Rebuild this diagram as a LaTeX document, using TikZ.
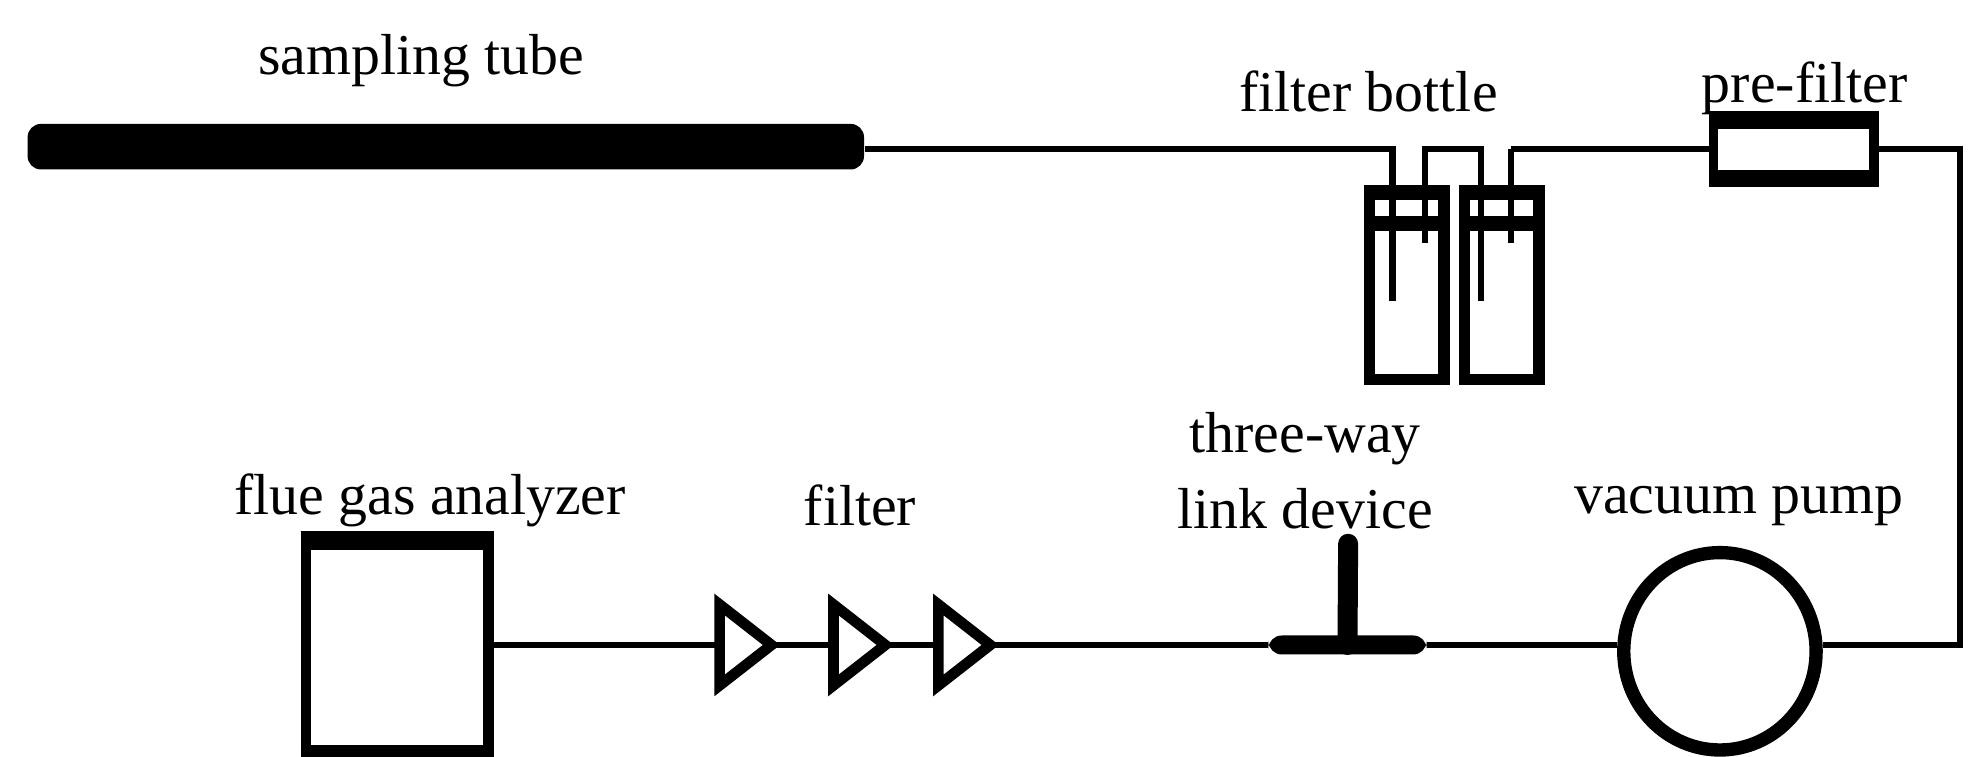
\documentclass[tikz,border=0pt]{standalone}
\usepackage{fontspec}
\usetikzlibrary{shapes.geometric}
\setmainfont{Liberation Serif}
\begin{document}
\begin{tikzpicture}[x=0.01cm,y=-0.01cm,
  pipe/.style={line width=1.4pt},
  lbl/.style={font=\fontsize{13}{17}\selectfont, align=center},
  thickbox/.style={line width=3pt}]
\useasboundingbox (0,0) rectangle (1568,598);
% labels
\node[lbl] (lst) at (333,48) {sampling tube};
\node[lbl] (lfb) at (1082,72) {filter bottle};
\node[lbl] (lpf) at (1427,70) {pre-filter};
\node[lbl] (ltw) at (1032,372) {three-way\\link device};
\node[lbl] (lvp) at (1375,400) {vacuum pump};
\node[lbl] (lf) at (680,400) {filter};
\node[lbl] (lfa) at (340,396) {flue gas analyzer};
% sampling tube
\node[fill=black, rounded corners=3pt, minimum width=6.61cm, minimum height=0.36cm, inner sep=0] (tube) at (352.5,116) {};
% bottles
\foreach \n/\x in {b1/1080,b2/1155}{
  \draw[line width=2.6pt] (\x+3,151) rectangle (\x+62,300);
  \fill (\x,148) rectangle (\x+65,158);
  \fill (\x,171) rectangle (\x+65,183);
  \coordinate (\n) at (\x,148);
}
\coordinate (t1a) at (1101,118); \coordinate (t1b) at (1127,118);
\coordinate (t2a) at (1171,118); \coordinate (t2b) at (1195,118);
\draw[pipe] (tube.east |- 0,118) -- (t1a) -- (1101,238);
\draw[pipe] (1127,192) -- (t1b) -- (t2a) -- (1171,238);
\draw[pipe] (1195,192) -- (t2b);
% pre-filter
\node[draw, line width=2.2pt, minimum width=1.27cm, minimum height=0.40cm, inner sep=0] (pf) at (1418.5,118) {};
\draw[line width=3.5pt] (pf.north west) -- (pf.north east) (pf.south west) -- (pf.south east);
\draw[pipe] (t2b) -- (pf.west);
% vacuum pump
\node[draw, ellipse, line width=3pt, minimum width=1.52cm, minimum height=1.56cm, inner sep=0] (vp) at (1360,515) {};
\coordinate (rc1) at (1550,118); \coordinate (rc2) at (1550,510);
\draw[pipe] (pf.east) -- (rc1) -- (rc2) -- (vp.east |- rc2);
% analyzer
\node[draw, line width=2.4pt, minimum width=1.44cm, minimum height=1.62cm, inner sep=0] (fa) at (314,512) {};
\draw[line width=4pt] (fa.north west) -- (fa.north east) (fa.south west) -- (fa.south east);
% three-way
\node[fill=black, rounded corners=3pt, minimum width=1.25cm, minimum height=0.15cm, inner sep=0] (tw) at (1065.5,510) {};
\coordinate (twtop) at (1066,430);
\draw[line width=4.5pt, line cap=round] (twtop) -- (tw.center);
% filters
\foreach \n/\x in {f1/567,f2/657,f3/740}{
  \draw[line width=2.4pt, line join=miter] (\x+2,478) -- (\x+43,510) -- (\x+2,542) -- cycle;
  \coordinate (\n w) at (\x,510); \coordinate (\n e) at (\x+43,510);
}
\draw[pipe] (fa.east |- 0,510) -- (f1w);
\draw[pipe] (f1e) -- (f2w);
\draw[pipe] (f2e) -- (f3w);
\draw[pipe] (f3e) -- (tw.west);
\draw[pipe] (tw.east) -- (vp.west |- 0,510);
\end{tikzpicture}
\end{document}
